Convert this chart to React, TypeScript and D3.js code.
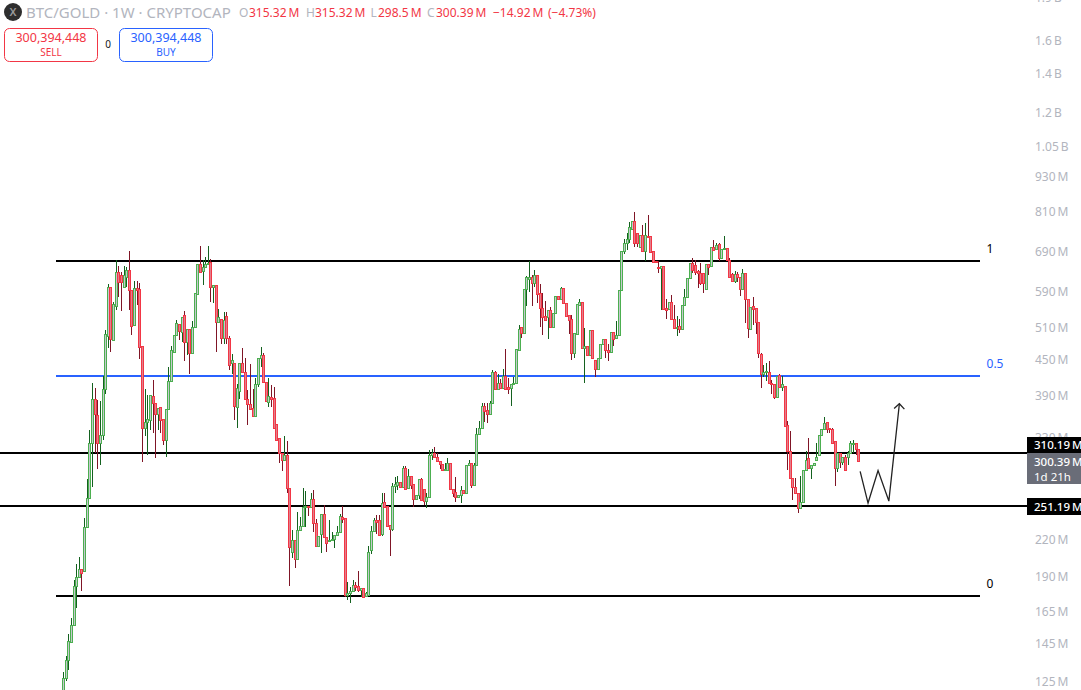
import { useEffect, useRef } from 'react';
import * as d3 from 'd3';

type Bar = [number, number, number, number]; // open, high, low, close (millions)

const rally2019: Bar[] = [
  [116,129.5,116,126.5],[126.5,138,125,136],[136,151,131,147],[146,161,146,156.5],[156.5,187,156.5,182.5],
  [182.5,199,167,189.5],[189.5,205,188.5,195],[195.5,195.5,179,192.5],[193.5,239,193.5,231],[231,279,231,259],
  [259,340,259,323],[323,409,271,383.5],[383.5,401,309.5,362.5],[360,382,291,322],[322,380.5,296,333.5],
  [333.5,421,326,400],[400,505,392,497],[493,606.5,471,599],[599,599,464,487],[485,564.5,485,560],
  [556,667,547,636],[636,651,576,611],[628,636,545,611],[599,651,599,628],[623,649,599,641],
  [641,691,547,592],[592,592,495,513],[515,613.5,515,597],[597,613.5,558,592],[594.5,609,450,472],
];
const pullback2020: Bar[] = [
  [475,475,298.5,343],[343,400,331,350],[350,390,308,354.5],[353,390,339,390],[388.5,414,336,377.5],
  [377.5,377.5,303.5,362.5],[362.5,370,339,370],[371.5,371.5,336,353],[354.5,354.5,320.5,327],[327,369,304.5,369],
  [369,436,369,412.5],[412.5,475,412.5,466],[464,495,464,495],[495,525,495,519],[517,517,485,503],
  [501,532,481,532],[536,545,446,481],[481,507,457,507],[507,507,424,462],[462,523,462,511],
  [511,585.5,511,585.5],[583,656.5,583,656.5],[656.5,705,636,636],[639,667,604,649],[649,675,649,656.5],
  [656.5,705,656.5,660],[662,670,564.5,599],[599,604,562,604],[604,604,464,521],[521,549,521,532],
  [529,529,479,489],[489,543,479,527],[534,543,479,489],[489,493,431,439],
];
const slide2021: Bar[] = [
  [442.5,459,425,448],[444,444,353,373.5],[371.5,408,342,401],[396.5,444,383.5,444],[444,471,428,428],
  [428,453,383.5,383.5],[383.5,398,346,376.5],[376.5,441,369,369],[370,400,358.5,358.5],[358.5,417.5,358.5,408],
  [408,453,403,453],[453,473,437,457],[457,461,411,411],[411,411,380.5,380.5],[379,417.5,371.5,388.5],
  [387,406,371.5,383.5],[385,403,343,343],[347.5,347.5,327,327],[328.5,328.5,297.5,310.5],[310.5,310.5,288,302],
  [302,331,302,307],[307,324.5,264,270],[270,270,182.5,213],[209,228,204.5,219],[219,219,196,203.5],
  [203.5,245,203.5,228],[228,240,228,232],[232,270,232,250],[250,266,230.5,251],[251,251,241,250],
  [250,264,250,258],[258,267,226,235],[235,238,214,214],[214,223,214,223],[225,243,208.5,243],
  [243,252,221.5,221.5],[221.5,221.5,209,217],[218,237,218,219.5],[219,226,219,220],[220,224,212,224],
  [224,232,224,226],[226,243,226,241],[240,251,235,238],[239,239,175,176],
];
const base2022: Bar[] = [
  [176,185.5,172.5,177.5],[177.5,182,171,179],[179,187,179,183],[183,185.5,179,182],[182.5,194,178,179.5],
  [179.5,181,175,181],[181,181,174,175],[175.5,178,175,177.5],[176,214,176,209],[211,232,207.5,227],
  [227,239,227,237],[237,242,225,236],[237,242,223,224],[225,264,223,254],[255,264,250,250],
  [251,251,232,232],[233,233,206,229.5],[229.5,275.5,227,272],[272,282,264,274],[273,283,267,276.5],
  [276.5,276.5,271,271],[271,294,271,292.5],[292.5,294,269,269],[270,291,270,283],[283,283,269,273],
  [274,274,250,258],[258,262,258,262],[262,279,258,279],[280,281,257,257],[269,269,252,256],
  [256,264,249,260],[260,314,260,307],[307,315.5,301,309.5],[309.5,317,304.5,304.5],[304.5,309.5,300,300],
  [300,300,291,296.5],[296.5,296.5,289,290],[290,297.5,288,291],[290,303.5,288,297.5],[297.5,297.5,269,269],
  [269,269,260,264],[265,282,255,260],[260,262,259,262],[262,272,254,268],[268,268,264,264],
  [264,295,264,295],[295,301,295,297.5],[297.5,297.5,270,273],
];
const climb2023: Bar[] = [
  [273,297.5,273,295],[295,343,295,334.5],[334.5,351.5,334.5,342],[342,378,342,373.5],[373.5,378,350,367],
  [368,378,349,362.5],[362.5,380.5,362.5,378],[378,431,378,428],[428,430,400,400],[400,424,400,409.5],
  [409.5,416,401,401],[401,432.5,401,421],[421,468,400,400],[403,417.5,392,400],[401,408,373.5,408],
  [408,419,408,409.5],[409.5,468,409.5,468],[466,515,466,507],[511,511,489,499],[499,594.5,499,594.5],
  [594.5,625.5,556,623],[618.5,664,587,623],[623,628,556,609],[609,641,599,628],[628,628,562.5,582.5],
  [585,606.5,511,551.5],[551.5,585,495,532],[534,567,527,527],[532,547,487,547],[547,553.5,511,511],
  [511,540,511,540],[540,578,540,578],[578,578,571,571],[571,599,571,597],[597,597,562.5,562.5],
  [562.5,562.5,534,534],[536,536,497,527],[529,536,448,461],[461,499,451.5,499],[497,560,497,560],
  [558,571,558,564.5],[564.5,564.5,470,470],[470,509,409.5,475],[475,475,457,457],[457,505,457,505],
  [505,505,451.5,451.5],[448,448,419,432.5],[432.5,453,432.5,453],[453,479,453,479],[479,487,479,487],
  [487,487,451.5,466],[466,479,446,464],[464,501,464,501],[501,501,475,487],[489,523,489,495],
];
const top2024: Bar[] = [
  [495,592,495,592],[592,691,592,691],[691,725,683,713.5],[713.5,743,694,725],[725,776,713.5,761],
  [755,779,755,779],[779,808,702,713.5],[743,743,702,713.5],[702,737,702,737],[737,767,691,691],
  [691,773,664,737],[734,798,731,731],[734,734,688,688],[691,691,660,661.5],[664,664,659,661.5],
  [649,664,633,646],[646,651,547,651],[651,651,549,549],[551.5,571,529,547],[549,564.5,549,564.5],
  [564.5,580,529,529],[529,558,509,509],[509,534,493,511],[513,529,499,507],[507,558,507,558],
  [558,594.5,558,576],[576,621,576,621],[621,659,621,659],[659,672,633,641],[654,667,630,636],
  [639,641,597,633],[633,659,604,609],[633,633,585,609],[594.5,656.5,594.5,656.5],[656.5,656.5,628,649],
  [651,702,651,702],[702,722,694,694],[697,713.5,697,708],[711,713.5,664,672],[672,697,670,697],
  [697,734,697,699.5],[699.5,699.5,667,667],[667,672,623,623],[631,633,611,613.5],[613.5,639,609,631],
  [631,636,611,623],[623,623,578,594.5],[594.5,644,594.5,633],
];
const decline2025: Bar[] = [
  [633,633,519,571],[571,571,489,509],[507,553.5,505,553.5],[556,576,515,549],[551.5,551.5,497,521],
  [521,521,451.5,461],[459,462,401,425],[425,439,419,428],[428,444,412.5,429],[428,446,409.5,409.5],
  [409.5,414,392,408],[408,408,383.5,387],[387,421,387,421],[422,424,403,403],[403,421,396.5,408],
  [404.5,404.5,344.5,344.5],[346,351.5,290,313],[313,338,281,281],[281,281,257,271],[271,281,263,264],
  [264,264,244,249],[249,283,249,255],[255,290,255,290],[290,313,290,302],[303.5,328.5,292.5,292.5],
  [292.5,295,279.5,295],[295,297.5,295,297.5],[301,322,301,304.5],[307,333.5,307,333.5],[333.5,340.5,333.5,340.5],
  [340.5,357,340.5,349],[350,350,336,340.5],[342,343,335,340.5],[340.5,343,323,323],[324.5,324.5,272,292.5],
  [292.5,310.5,287,310.5],[310.5,310.5,292.5,298.5],[298.5,304.5,296,304.5],[304.5,307,290,290],[304.5,313,296,309.5],[309.5,324.5,309.5,322],
  [322,327,310.5,323],[322,322,308,314.5],[315.32,315.32,298.5,300.39],
];
const bars: Bar[] = [...rally2019, ...pullback2020, ...slide2021, ...base2022, ...climb2023, ...top2024, ...decline2025];

const priceTicks = [1900, 1600, 1400, 1200, 1050, 930, 810, 690, 590, 510, 450, 390, 330, 280, 250, 220, 190, 165, 145, 125];
const fibLevels = [
  { value: 664.6, label: '1', color: '#000000' },
  { value: 420.6, label: '0.5', color: '#2962ff' },
  { value: 175.3, label: '0', color: '#000000' },
];
const horizontalLevels = [310.19, 251.19];
const sketchPath: [number, number][] = [[302.7, 288], [305.7, 254], [309.5, 289], [313.6, 256], [317.6, 377]];
const sketchHead: [number, number][] = [[315.6, 370], [317.6, 377], [319.5, 369]];

const FONT = '"Noto Sans", sans-serif';
const THIN = '\u2009';

const fmtTick = (v: number) => (v >= 1000 ? `${d3.format('.3~f')(v / 1000)}${THIN}B` : `${v}${THIN}M`);

export default function App() {
  const svgRef = useRef<SVGSVGElement>(null);

  useEffect(() => {
    if (!svgRef.current) return;
    const svg = d3.select(svgRef.current);
    svg.selectAll('*').remove();
    svg.attr('font-family', FONT);

    const x = d3.scaleLinear().domain([0, bars.length - 1]).range([63, 858.3]);
    const y = d3.scaleLog().domain([125, 1600]).range([681.3, 40.3]);

    // Price axis labels, the tags are painted over some of them later
    svg.append('g')
      .selectAll('text')
      .data(priceTicks)
      .join('text')
      .attr('x', 1035)
      .attr('y', d => y(d) + 4.5)
      .attr('fill', '#b2b5be')
      .attr('font-size', 12)
      .text(d => fmtTick(d));

    // Horizontal levels
    const levels = svg.append('g').attr('shape-rendering', 'crispEdges');
    levels.selectAll('line.fib')
      .data(fibLevels)
      .join('line')
      .attr('class', 'fib')
      .attr('x1', 56)
      .attr('x2', 980)
      .attr('y1', d => Math.round(y(d.value)))
      .attr('y2', d => Math.round(y(d.value)))
      .attr('stroke', d => d.color)
      .attr('stroke-width', 2);

    levels.selectAll('line.flat')
      .data(horizontalLevels)
      .join('line')
      .attr('class', 'flat')
      .attr('x1', 0)
      .attr('x2', 1027)
      .attr('y1', d => Math.round(y(d)))
      .attr('y2', d => Math.round(y(d)))
      .attr('stroke', '#000')
      .attr('stroke-width', 2);

    svg.append('g')
      .selectAll('text')
      .data(fibLevels)
      .join('text')
      .attr('x', d => (d.label === '0.5' ? 995 : 990))
      .attr('y', d => y(d.value) - 8)
      .attr('text-anchor', 'middle')
      .attr('fill', d => d.color)
      .attr('font-size', 12)
      .text(d => d.label);

    // Candles
    const isUp = (d: Bar) => d[3] >= d[0];
    const px = (i: number) => Math.round(x(i));
    const candles = svg.append('g').attr('shape-rendering', 'crispEdges');

    candles.selectAll('line')
      .data(bars)
      .join('line')
      .attr('x1', (_, i) => px(i) + 0.5)
      .attr('x2', (_, i) => px(i) + 0.5)
      .attr('y1', d => y(d[1]))
      .attr('y2', d => y(d[2]))
      .attr('stroke', d => (isUp(d) ? '#14611f' : '#7f1526'))
      .attr('stroke-width', 1);

    candles.selectAll('rect')
      .data(bars)
      .join('rect')
      .attr('x', (_, i) => px(i) - 0.5)
      .attr('width', 2)
      .attr('y', d => Math.round(y(Math.max(d[0], d[3]))) + 0.5)
      .attr('height', d => Math.max(1, Math.round(y(Math.min(d[0], d[3]))) - Math.round(y(Math.max(d[0], d[3])))))
      .attr('fill', d => (isUp(d) ? '#c6c8ce' : '#e0808c'))
      .attr('stroke', d => (isUp(d) ? '#4caf50' : '#f23645'))
      .attr('stroke-width', 1);

    // Hand drawn W and arrow
    const sketch = d3.line<[number, number]>().x(d => x(d[0])).y(d => y(d[1]));
    [sketchPath, sketchHead].forEach(p => {
      svg.append('path')
        .attr('d', sketch(p))
        .attr('fill', 'none')
        .attr('stroke', '#222')
        .attr('stroke-width', 1.3);
    });

    // Price tags
    const tag = (top: number, h: number, fill: string) =>
      svg.append('rect').attr('x', 1027).attr('y', top).attr('width', 54).attr('height', h).attr('fill', fill);
    const tagText = (yy: number, s: string, weight = 500) =>
      svg.append('text').attr('x', 1034).attr('y', yy).attr('fill', '#fff').attr('font-size', 11.5)
        .attr('font-weight', weight).text(s);
    tag(437, 16, '#000');
    tagText(449, `310.19${THIN}M`);
    tag(453, 31, '#6a6d78');
    tagText(466, `300.39${THIN}M`);
    tagText(481, '1d 21h', 400);
    tag(498, 17, '#000');
    tagText(511, `251.19${THIN}M`);

    // Header
    svg.append('circle').attr('cx', 13).attr('cy', 12).attr('r', 9).attr('fill', '#2e2e2e');
    svg.append('text').attr('x', 13).attr('y', 16).attr('text-anchor', 'middle').attr('fill', '#9a9a9a')
      .attr('font-size', 11).attr('font-weight', 600).text('X');
    svg.append('text').attr('x', 26).attr('y', 18).attr('fill', '#b2b5be').attr('font-size', 15)
      .text('BTC/GOLD · 1W · CRYPTOCAP');

    const headerText = (hx: number, s: string, fill: string) =>
      svg.append('text').attr('x', hx).attr('y', 17).attr('font-size', 12).attr('fill', fill).text(s);
    headerText(239, 'O', '#b2b5be');
    headerText(249, `315.32${THIN}M`, '#f23645');
    headerText(306, 'H', '#b2b5be');
    headerText(315, `315.32${THIN}M`, '#f23645');
    headerText(370.5, 'L', '#b2b5be');
    headerText(378, `298.5${THIN}M`, '#f23645');
    headerText(427, 'C', '#b2b5be');
    headerText(436, `300.39${THIN}M`, '#f23645');
    headerText(493, `−14.92${THIN}M`, '#f23645');
    headerText(548, '(−4.73%)', '#f23645');

    // Order buttons
    const button = (bx: number, color: string, label: string) => {
      svg.append('rect').attr('x', bx + 0.5).attr('y', 28.5).attr('width', 93).attr('height', 33).attr('rx', 5)
        .attr('fill', '#fff').attr('stroke', color);
      svg.append('text').attr('x', bx + 47).attr('y', 42).attr('text-anchor', 'middle').attr('fill', color)
        .attr('font-size', 12.5).text('300,394,448');
      svg.append('text').attr('x', bx + 47).attr('y', 56).attr('text-anchor', 'middle').attr('fill', color)
        .attr('font-size', 10).text(label);
    };
    button(4, '#f23645', 'SELL');
    button(119, '#2962ff', 'BUY');
    svg.append('text').attr('x', 108).attr('y', 48).attr('text-anchor', 'middle').attr('fill', '#131722')
      .attr('font-size', 10).text('0');
  }, []);

  return (
    <svg
      ref={svgRef}
      width={1081}
      height={690}
      style={{ position: 'absolute', left: 0, top: 0, background: '#fff' }}
    />
  );
}
